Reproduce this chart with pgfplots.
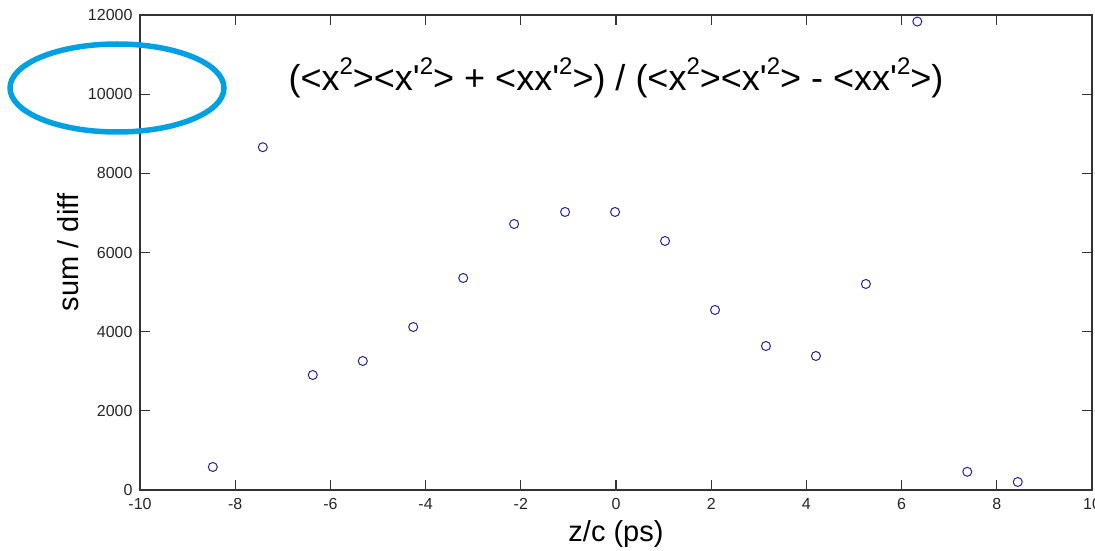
\documentclass[border=0pt]{standalone}
\usepackage{pgfplots}
\pgfplotsset{compat=1.18}
\usepackage{fontspec}
\setmainfont{Liberation Sans}
\definecolor{mk}{RGB}{35,35,150}
\definecolor{ell}{RGB}{0,160,225}
\newcommand\sq{\raisebox{0.45em}{\fontsize{24}{24}\selectfont 2}}
\newcommand\pr{\textquotesingle}
\begin{document}
\begin{tikzpicture}[x=1pt,y=1pt]
\useasboundingbox (0,0) rectangle (1095,550);
\begin{axis}[
  at={(140pt,60pt)}, anchor=south west,
  scale only axis, width=952pt, height=475pt,
  xmin=-10, xmax=10, ymin=0, ymax=12000,
  xtick={-10,-8,...,10}, ytick={0,2000,...,12000},
  tick align=inside, major tick length=10pt,
  axis line style={line width=1.2pt, black!80},
  every tick/.style={line width=1.2pt, black!80},
  ticklabel style={font=\fontsize{16}{18}\selectfont, text=black!85},
  /pgf/number format/assume math mode=true,
  scaled y ticks=false,
  yticklabel style={/pgf/number format/1000 sep={}, xshift=-4pt},
  xticklabel style={yshift=-5pt},
  xlabel={z/c (ps)}, ylabel={sum / diff},
  label style={font=\fontsize{29}{32}\selectfont},
  xlabel style={at={(axis description cs:0.5,-0.0926)}, anchor=center},
  ylabel style={at={(axis description cs:-0.0756,0.5)}, anchor=center},
  clip=false,
]
\addplot[only marks, mark=o, mark size=4.5pt, mk, mark options={line width=1pt}] coordinates {
(-8.47,581) (-7.42,8660) (-6.37,2905) (-5.32,3259) (-4.26,4118) (-3.21,5356)
(-2.14,6720) (-1.07,7024) (-0.02,7024) (1.03,6291) (2.08,4548) (3.15,3638)
(4.20,3386) (5.25,5205) (6.33,11835) (7.38,460) (8.44,202)
};
\node[font=\fontsize{36}{40}\selectfont] at (axis cs:0,10420)
  {(<x\sq><x\pr\sq> + <xx\pr\sq>) / (<x\sq><x\pr\sq> - <xx\pr\sq>)};
\end{axis}
\draw[ell, line width=5.5pt] (117,462) ellipse (107 and 44);
\end{tikzpicture}
\end{document}
